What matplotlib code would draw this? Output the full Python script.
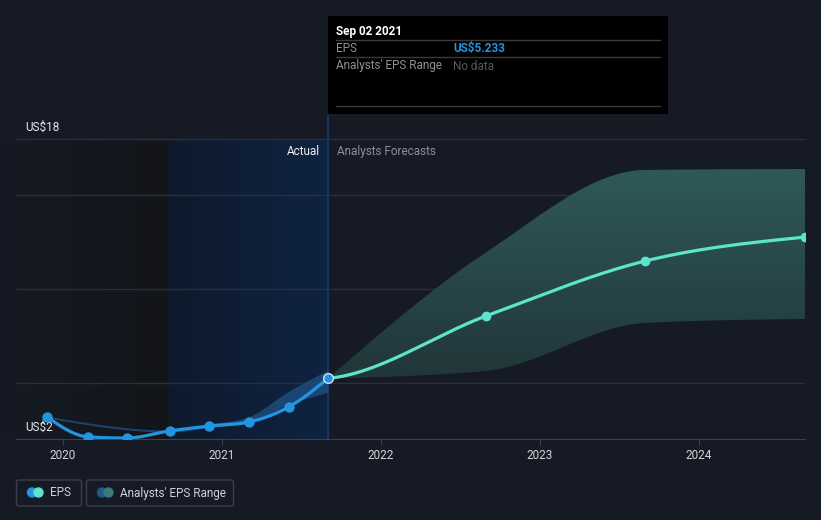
#!/usr/bin/env python3
"""
EPS actual vs analysts forecast chart
"""

import numpy as np
import matplotlib
matplotlib.use('Agg')
import matplotlib.pyplot as plt
from matplotlib.patches import FancyBboxPatch, Rectangle, Circle
from matplotlib.colors import LinearSegmentedColormap

plt.rcParams['font.family'] = ['Roboto', 'DejaVu Sans']

# ---- data (decimal years, US$) ----
eps_dates = [2019.90, 2020.16, 2020.40, 2020.67, 2020.92, 2021.17, 2021.42, 2021.667]
eps_values = [3.17, 2.11, 2.05, 2.43, 2.69, 2.91, 3.71, 5.233]

past_range_dates = [2019.90, 2020.67, 2020.92, 2021.17, 2021.42, 2021.667]
past_range_high = [3.22, 2.48, 2.80, 3.20, 4.55, 5.68]
past_range_low = [3.12, 2.37, 2.62, 2.85, 3.85, 4.50]

fc_dates = [2021.667, 2022.66, 2023.66, 2024.667]
fc_values = [5.233, 8.56, 11.49, 12.77]
fc_high = [5.233, 11.95, 16.35, 16.40]
fc_low = [5.233, 5.63, 8.19, 8.40]

year_ticks = [2020, 2021, 2022, 2023, 2024]
grid_values = [5, 10, 15, 18]

past_start = 2020.667
today = 2021.667

BG = '#151a24'
W, H = 821, 520


def monotone(xs, ys, n=60, start_slope=None):
    """d3 curveMonotoneX 样式的平滑曲线"""
    x = np.asarray(xs, float)
    y = np.asarray(ys, float)
    h = np.diff(x)
    s = np.diff(y) / h
    t = np.zeros_like(x)
    for i in range(1, len(x) - 1):
        p = (s[i - 1] * h[i] + s[i] * h[i - 1]) / (h[i - 1] + h[i])
        t[i] = (np.sign(s[i - 1]) + np.sign(s[i])) * min(abs(s[i - 1]), abs(s[i]), 0.5 * abs(p))
    if len(x) > 2:
        t[0] = (3 * s[0] - t[1]) / 2
        t[-1] = (3 * s[-1] - t[-2]) / 2
    else:
        t[:] = s[0]
    if start_slope is not None:
        t[0] = start_slope
    out_x, out_y = [], []
    for i in range(len(x) - 1):
        u = np.linspace(0, 1, n)
        h00 = 2 * u**3 - 3 * u**2 + 1
        h10 = u**3 - 2 * u**2 + u
        h01 = -2 * u**3 + 3 * u**2
        h11 = u**3 - u**2
        out_x.append(x[i] + u * h[i])
        out_y.append(h00 * y[i] + h10 * h[i] * t[i] + h01 * y[i + 1] + h11 * h[i] * t[i + 1])
    return np.concatenate(out_x), np.concatenate(out_y)


fig = plt.figure(figsize=(W / 100, H / 100), dpi=100)
fig.patch.set_facecolor(BG)

# 主图
left, right, top, bottom = 16, 805, 115, 439
ax = fig.add_axes([left / W, (H - bottom) / H, (right - left) / W, (bottom - top) / H], zorder=1)
ax.set_facecolor('none')
x0 = 2020 + (left - 63) / 159
x1 = 2020 + (right - 63) / 159
y0 = 2
y1 = 2 + (bottom - top) / 18.75
ax.set_xlim(x0, x1)
ax.set_ylim(y0, y1)

# 左侧暗色渐变 + 过去区间蓝色渐变 (到 US$18 网格线为止)
xleft = 2020 - 63 / 159
dark = LinearSegmentedColormap.from_list('dk', [BG, '#131519'])
ax.imshow(np.linspace(0, 1, 256).reshape(1, -1), cmap=dark, aspect='auto',
          extent=[xleft, past_start, y0, 18], clip_on=False, zorder=0)
navy = LinearSegmentedColormap.from_list('nv', ['#0f1a2c', '#0e2342'])
ax.imshow(np.linspace(0, 1, 256).reshape(1, -1), cmap=navy, aspect='auto',
          extent=[past_start, today, y0, 18], zorder=0)
ax.axvline(today, color='#18375e', lw=1.5, zorder=1)

# 网格
for g in grid_values:
    ax.axhline(g, color='#2a2f3a', lw=1, zorder=1)

# 预测区间 (渐变填充)
bx, bh = monotone(fc_dates, fc_high)
_, bl = monotone(fc_dates, fc_low)
poly = ax.fill_between(bx, bl, bh, color='none', lw=0)
teal = LinearSegmentedColormap.from_list('tl', ['#213639', '#2f5959'])
im = ax.imshow(np.linspace(0, 1, 256).reshape(-1, 1), cmap=teal, aspect='auto', origin='lower',
               extent=[today, x1, min(fc_low), max(fc_high)], zorder=2)
im.set_clip_path(poly.get_paths()[0], transform=ax.transData)

# 过去区间
px, ph = monotone(past_range_dates, past_range_high)
_, pl = monotone(past_range_dates, past_range_low)
ax.fill_between(px, pl, ph, color='#1e4c7c', alpha=0.85, lw=0, zorder=2)

# 预测线
fx, fy = monotone(fc_dates, fc_values, start_slope=0.8)
ax.plot(fx, fy, color='#5de4cb', lw=2.3, zorder=4, solid_capstyle='round')
ax.plot(fc_dates[1:], fc_values[1:], 'o', color='#5de4cb', ms=6, zorder=5)

# 实际 EPS
ex, ey = monotone(eps_dates, eps_values)
ax.plot(ex, ey, color='#2394df', lw=2.3, zorder=4, solid_capstyle='round')
ax.plot(eps_dates[:-1], eps_values[:-1], 'o', color='#2394df', ms=6.5, zorder=5)
ax.plot(eps_dates[-1:], eps_values[-1:], 'o', color='#2394df', ms=7,
        markeredgecolor='#cfe4f7', markeredgewidth=1, zorder=6)

# 坐标轴
for s in ['top', 'right', 'left']:
    ax.spines[s].set_visible(False)
ax.spines['bottom'].set_color('#3b404a')
ax.set_yticks([])
ax.set_xticks(year_ticks)
ax.set_xticklabels([str(y) for y in year_ticks])
ax.tick_params(axis='x', colors='#3b404a', length=4, pad=3, labelsize=8.5,
               labelcolor='#d2d5da')

# 文字
ax.text(2019.76, 18 + 12 / 18.75, 'US$18', color='#e6e8eb', fontsize=8.5, va='center', ha='left')
ax.text(2019.76, 2 + 12 / 18.75, 'US$2', color='#e6e8eb', fontsize=8.5, va='center', ha='left')
ylab = 2 + (bottom - 151) / 18.75
ax.text(today - 8 / 159, ylab, 'Actual', color='#f0f0f0', fontsize=8.5, va='center', ha='right')
ax.text(today + 9 / 159, ylab, 'Analysts Forecasts', color='#8b9099', fontsize=8.5,
        va='center', ha='left')

# 悬浮提示框
ov = fig.add_axes([0, 0, 1, 1], zorder=3)
ov.set_xlim(0, W)
ov.set_ylim(H, 0)
ov.axis('off')
ov.add_patch(Rectangle((328, 16), 340, 98, color='#000000', lw=0))
ov.text(336, 31, 'Sep 02 2021', color='#ffffff', fontsize=8.5, fontweight='bold', va='center')
for yy in [40, 57, 106]:
    ov.plot([336, 660], [yy, yy], color='#3a3a3a', lw=1)
ov.text(336, 48.5, 'EPS', color='#8e9196', fontsize=8.5, va='center')
ov.text(453, 48.5, 'US$5.233', color='#2394df', fontsize=8.5, fontweight='bold', va='center')
ov.text(336, 66, "Analysts' EPS Range", color='#8e9196', fontsize=8.5, va='center')
ov.text(453, 66, 'No data', color='#55585d', fontsize=8.5, va='center')

# 图例
for (lx, lw_) in [(16.5, 65), (86.5, 147)]:
    ov.add_patch(FancyBboxPatch((lx, 480), lw_, 26, boxstyle='round,pad=0,rounding_size=2',
                                fc='none', ec='#3a3f48', lw=1))
ov.add_patch(Circle((32, 492.5), 4.5, color='#2394df'))
ov.add_patch(Circle((38.5, 492.5), 4.5, color='#5de4cb'))
ov.text(50, 493, 'EPS', color='#cfd2d6', fontsize=8.5, va='center')
ov.add_patch(Circle((102, 492.5), 4.5, color='#1f5a88'))
ov.add_patch(Circle((108.5, 492.5), 4.5, color='#3d7a78'))
ov.text(120, 493, "Analysts' EPS Range", color='#cfd2d6', fontsize=8.5, va='center')

fig.savefig('out.png', dpi=100, facecolor=BG)
